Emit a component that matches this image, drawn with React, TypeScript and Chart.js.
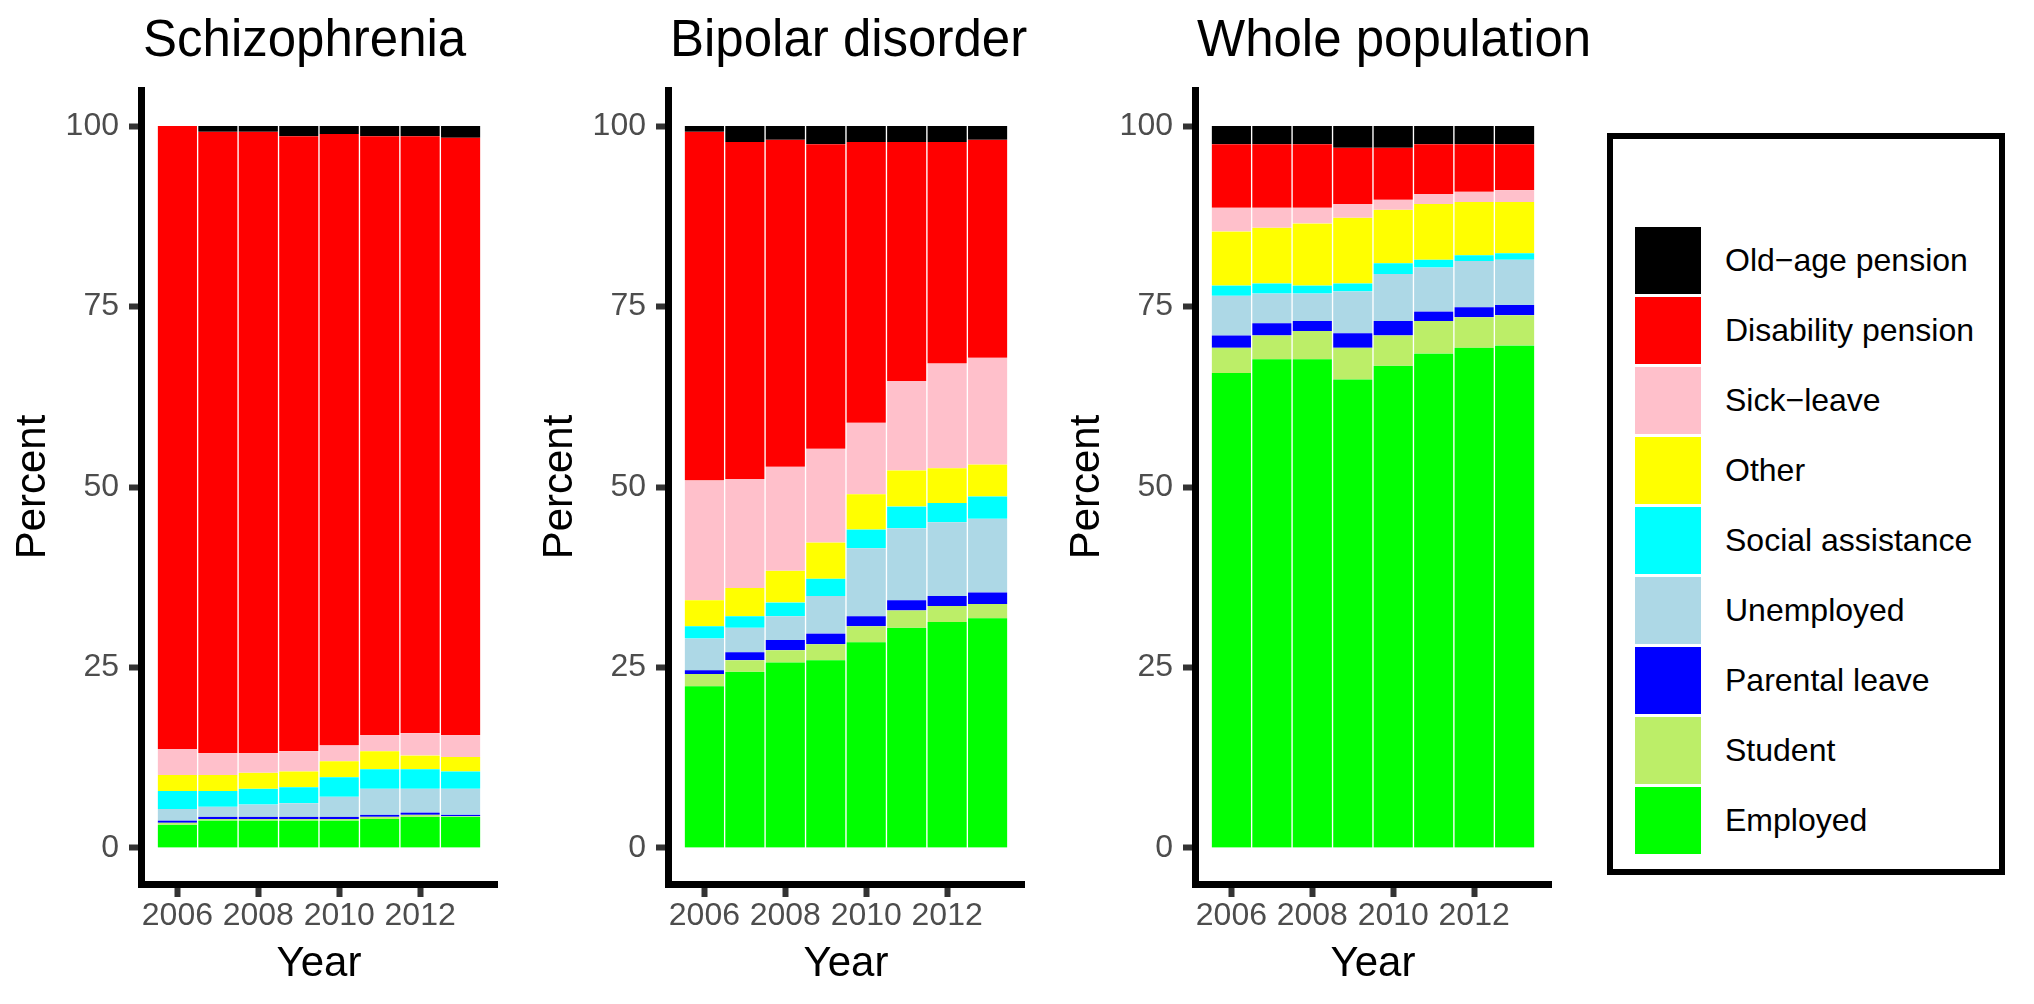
import React, { useEffect, useRef } from "react";
import { Chart, registerables } from "chart.js";

Chart.register(...registerables);

// ---------- DATA ----------
const years = [2006, 2007, 2008, 2009, 2010, 2011, 2012, 2013];
const xTickYears = [2006, 2008, 2010, 2012];
const yTickValues = [0, 25, 50, 75, 100];

const statusLabels = [
  "Employed",
  "Student",
  "Parental leave",
  "Unemployed",
  "Social assistance",
  "Other",
  "Sick\u2212leave",
  "Disability pension",
  "Old\u2212age pension",
];
const statusColors = [
  "#00FF00",
  "#BCEE68",
  "#0000FF",
  "#ADD8E6",
  "#00FFFF",
  "#FFFF00",
  "#FFC0CB",
  "#FF0000",
  "#000000",
];

// Schizophrenia (percent)
const schEmployed = [3.2, 3.8, 3.8, 3.8, 3.8, 4.0, 4.3, 4.3];
const schStudent = [0.3, 0.2, 0.2, 0.2, 0.2, 0.3, 0.3, 0.1];
const schParental = [0.3, 0.3, 0.3, 0.3, 0.3, 0.3, 0.3, 0.2];
const schUnemployed = [1.6, 1.4, 1.7, 1.9, 2.8, 3.6, 3.3, 3.6];
const schSocial = [2.5, 2.2, 2.2, 2.2, 2.7, 2.7, 2.7, 2.4];
const schOther = [2.2, 2.2, 2.2, 2.2, 2.2, 2.5, 1.9, 2.0];
const schSick = [3.6, 3.0, 2.7, 2.8, 2.2, 2.2, 3.1, 3.0];
const schDisability = [86.3, 86.1, 86.1, 85.2, 84.7, 83.0, 82.7, 82.8];
const schOldAge = [0.0, 0.8, 0.8, 1.4, 1.1, 1.4, 1.4, 1.6];

// Bipolar disorder (percent)
const bipEmployed = [22.4, 24.4, 25.7, 26.0, 28.5, 30.5, 31.3, 31.8];
const bipStudent = [1.7, 1.6, 1.7, 2.2, 2.2, 2.4, 2.2, 2.0];
const bipParental = [0.5, 1.1, 1.4, 1.5, 1.4, 1.4, 1.4, 1.6];
const bipUnemployed = [4.4, 3.4, 3.3, 5.2, 9.4, 10.0, 10.2, 10.2];
const bipSocial = [1.7, 1.6, 1.9, 2.4, 2.6, 3.0, 2.7, 3.1];
const bipOther = [3.6, 3.9, 4.4, 5.0, 4.9, 5.0, 4.8, 4.4];
const bipSick = [16.6, 15.1, 14.4, 13.0, 9.9, 12.4, 14.5, 14.8];
const bipDisability = [48.3, 46.7, 45.3, 42.2, 38.9, 33.1, 30.7, 30.2];
const bipOldAge = [0.8, 2.2, 1.9, 2.5, 2.2, 2.2, 2.2, 1.9];

// Whole population (percent)
const popEmployed = [65.8, 67.7, 67.7, 64.9, 66.8, 68.5, 69.3, 69.6];
const popStudent = [3.5, 3.3, 3.9, 4.4, 4.2, 4.5, 4.2, 4.2];
const popParental = [1.7, 1.7, 1.4, 2.0, 2.0, 1.3, 1.4, 1.4];
const popUnemployed = [5.5, 4.1, 3.8, 5.8, 6.5, 6.1, 6.4, 6.3];
const popSocial = [1.4, 1.4, 1.1, 1.1, 1.5, 1.1, 0.8, 0.9];
const popOther = [7.5, 7.7, 8.6, 9.1, 7.4, 7.7, 7.4, 7.1];
const popSick = [3.3, 2.8, 2.2, 1.9, 1.4, 1.4, 1.4, 1.6];
const popDisability = [8.8, 8.8, 8.8, 7.8, 7.2, 6.9, 6.6, 6.4];
const popOldAge = [2.5, 2.5, 2.5, 3.0, 3.0, 2.5, 2.5, 2.5];

const panels = [
  {
    title: "Schizophrenia",
    series: [schEmployed, schStudent, schParental, schUnemployed, schSocial, schOther, schSick, schDisability, schOldAge],
  },
  {
    title: "Bipolar disorder",
    series: [bipEmployed, bipStudent, bipParental, bipUnemployed, bipSocial, bipOther, bipSick, bipDisability, bipOldAge],
  },
  {
    title: "Whole population",
    series: [popEmployed, popStudent, popParental, popUnemployed, popSocial, popOther, popSick, popDisability, popOldAge],
  },
];

// legend order (top to bottom)
const legendOrder = [8, 7, 6, 5, 4, 3, 2, 1, 0];

const FONT = '"Liberation Sans", Arial, Helvetica, sans-serif';
Chart.defaults.font.family = FONT;

const PANEL_STEP = 527;
const CANVAS_W = 640;
const CANVAS_H = 1004;
const AREA_RIGHT = 497;

function Panel({ title, series, left }: { title: string; series: number[][]; left: number }) {
  const ref = useRef<HTMLCanvasElement | null>(null);

  useEffect(() => {
    if (!ref.current) return;
    const titlePlugin = {
      id: "panelTitle",
      afterDraw(chart: any) {
        const { ctx, chartArea } = chart;
        ctx.save();
        ctx.font = `51px ${FONT}`;
        ctx.fillStyle = "#000000";
        ctx.textAlign = "left";
        ctx.textBaseline = "alphabetic";
        ctx.fillText(title, chartArea.left + 2, 56);
        ctx.restore();
      },
    };
    const chart = new Chart(ref.current, {
      type: "bar",
      data: {
        datasets: statusLabels.map((label, k) => ({
          label,
          data: years.map((yr, i) => ({ x: yr, y: series[k][i] })),
          backgroundColor: statusColors[k],
          borderColor: "#ffffff",
          borderWidth: { left: 1, right: 1, top: 0, bottom: 0 },
          borderSkipped: false,
          categoryPercentage: 1,
          barPercentage: 1,
        })),
      },
      options: {
        responsive: false,
        animation: false,
        layout: { padding: { top: 90, left: 0, right: CANVAS_W - AREA_RIGHT, bottom: 0 } },
        plugins: {
          legend: { display: false },
          tooltip: { enabled: false },
          title: { display: false },
        },
        scales: {
          x: {
            type: "linear",
            stacked: true,
            min: 2005.1,
            max: 2013.9,
            offset: false,
            afterBuildTicks: (scale: any) => {
              scale.ticks = xTickYears.map((v) => ({ value: v }));
            },
            afterFit: (scale: any) => {
              scale.height = 120;
            },
            ticks: {
              autoSkip: false,
              maxRotation: 0,
              color: "#4d4d4d",
              font: { size: 32 },
              padding: 0,
              callback: (v: any) => String(v),
            },
            grid: {
              display: true,
              offset: false,
              drawOnChartArea: false,
              drawTicks: true,
              tickLength: 13,
              tickWidth: 6,
              tickColor: "#333333",
            },
            border: { display: true, color: "#000000", width: 7 },
            title: {
              display: true,
              text: "Year",
              color: "#000000",
              font: { size: 42 },
              padding: { top: 0, bottom: 14 },
            },
          },
          y: {
            type: "linear",
            stacked: true,
            min: -5,
            max: 105,
            afterBuildTicks: (scale: any) => {
              scale.ticks = yTickValues.map((v) => ({ value: v }));
            },
            afterFit: (scale: any) => {
              scale.width = 141;
            },
            ticks: {
              color: "#4d4d4d",
              font: { size: 32 },
              padding: 10,
              callback: (v: any) => String(v),
            },
            grid: {
              display: true,
              drawOnChartArea: false,
              drawTicks: true,
              tickLength: 12,
              tickWidth: 6,
              tickColor: "#333333",
            },
            border: { display: true, color: "#000000", width: 7 },
            title: {
              display: true,
              text: "Percent",
              color: "#000000",
              font: { size: 42 },
              padding: { top: 8, bottom: 0 },
            },
          },
        },
      },
      plugins: [titlePlugin],
    } as any);
    return () => chart.destroy();
  }, [title, series]);

  return (
    <canvas
      ref={ref}
      width={CANVAS_W}
      height={CANVAS_H}
      style={{ position: "absolute", left, top: 0, width: CANVAS_W, height: CANVAS_H }}
    />
  );
}

function Legend() {
  const boxLeft = 1607;
  const boxTop = 133;
  const firstKeyTop = 227;
  const pitch = 70;
  return (
    <>
      <div
        style={{
          position: "absolute",
          left: boxLeft,
          top: boxTop,
          width: 398,
          height: 742,
          border: "6px solid #000",
          boxSizing: "border-box",
          background: "#fff",
        }}
      />
      {legendOrder.map((k, i) => (
        <React.Fragment key={k}>
          <div
            style={{
              position: "absolute",
              left: 1635,
              top: firstKeyTop + i * pitch,
              width: 66,
              height: 67,
              background: statusColors[k],
            }}
          />
          <div
            style={{
              position: "absolute",
              left: 1725,
              top: firstKeyTop + i * pitch,
              height: 67,
              lineHeight: "67px",
              fontFamily: FONT,
              fontSize: 32,
              color: "#000",
              whiteSpace: "nowrap",
            }}
          >
            {statusLabels[k]}
          </div>
        </React.Fragment>
      ))}
    </>
  );
}

export default function App() {
  return (
    <div
      style={{
        position: "absolute",
        left: 0,
        top: 0,
        width: 2034,
        height: 1004,
        background: "#ffffff",
        overflow: "hidden",
      }}
    >
      {panels.map((p, i) => (
        <Panel key={p.title} title={p.title} series={p.series} left={i * PANEL_STEP} />
      ))}
      <Legend />
    </div>
  );
}
